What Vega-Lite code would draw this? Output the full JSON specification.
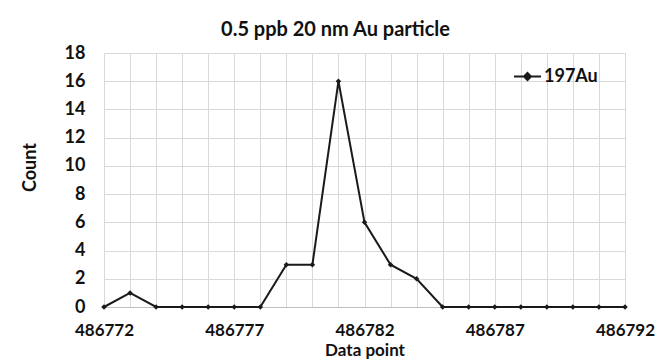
{
  "$schema": "https://vega.github.io/schema/vega-lite/v6.json",
  "autosize": {"type": "none"},
  "width": 521,
  "height": 254,
  "padding": {"left": 104, "top": 53, "right": 47, "bottom": 54},
  "background": "white",
  "config": {
    "font": "Lato",
    "view": {"stroke": null},
    "axis": {"labelFont": "Lato", "titleFont": "Lato", "labelFontWeight": "bold", "titleFontWeight": "bold", "labelColor": "#111", "titleColor": "#111", "gridColor": "#d9d9d9", "gridWidth": 1}
  },
  "title": {
    "text": "0.5 ppb 20 nm Au particle",
    "font": "Lato",
    "fontSize": 20,
    "fontWeight": "bold",
    "color": "#111",
    "anchor": "middle",
    "frame": "group",
    "baseline": "alphabetic",
    "dx": -29,
    "offset": -12
  },
  "data": {
    "values": [
      {"point": 486772, "count": 0, "series": "197Au"},
      {"point": 486773, "count": 1, "series": "197Au"},
      {"point": 486774, "count": 0, "series": "197Au"},
      {"point": 486775, "count": 0, "series": "197Au"},
      {"point": 486776, "count": 0, "series": "197Au"},
      {"point": 486777, "count": 0, "series": "197Au"},
      {"point": 486778, "count": 0, "series": "197Au"},
      {"point": 486779, "count": 3, "series": "197Au"},
      {"point": 486780, "count": 3, "series": "197Au"},
      {"point": 486781, "count": 16, "series": "197Au"},
      {"point": 486782, "count": 6, "series": "197Au"},
      {"point": 486783, "count": 3, "series": "197Au"},
      {"point": 486784, "count": 2, "series": "197Au"},
      {"point": 486785, "count": 0, "series": "197Au"},
      {"point": 486786, "count": 0, "series": "197Au"},
      {"point": 486787, "count": 0, "series": "197Au"},
      {"point": 486788, "count": 0, "series": "197Au"},
      {"point": 486789, "count": 0, "series": "197Au"},
      {"point": 486790, "count": 0, "series": "197Au"},
      {"point": 486791, "count": 0, "series": "197Au"},
      {"point": 486792, "count": 0, "series": "197Au"}
    ]
  },
  "encoding": {
    "x": {
      "field": "point",
      "type": "quantitative",
      "scale": {"domain": [486772, 486792], "nice": false, "zero": false},
      "axis": {
        "title": "Data point",
        "titleFontSize": 17,
        "titleY": 48,
        "titleBaseline": "alphabetic",
        "values": [486772,486773,486774,486775,486776,486777,486778,486779,486780,486781,486782,486783,486784,486785,486786,486787,486788,486789,486790,486791,486792],
        "labelExpr": "(datum.value - 486772) % 5 == 0 ? format(datum.value, 'd') : ''",
        "labelFontSize": 17,
        "labelBaseline": "alphabetic",
        "labelPadding": 28,
        "labelFlush": false,
        "labelOverlap": false,
        "labelBound": false,
        "ticks": false,
        "tickSize": 0,
        "domain": true,
        "domainColor": "#bfbfbf",
        "grid": true
      }
    },
    "y": {
      "field": "count",
      "type": "quantitative",
      "scale": {"domain": [0, 18], "nice": false},
      "axis": {
        "title": "Count",
        "titleFontSize": 18,
        "titleAngle": -90,
        "titleX": -69,
        "titleY": 114,
        "titleAlign": "center",
        "titleBaseline": "alphabetic",
        "values": [0,2,4,6,8,10,12,14,16,18],
        "labelFontSize": 18,
        "labelPadding": 19,
        "ticks": false,
        "tickSize": 0,
        "domain": false,
        "grid": true
      }
    }
  },
  "layer": [
    {
      "mark": {"type": "line", "strokeWidth": 2, "color": "#1a1a1a"},
      "encoding": {
        "color": {
          "field": "series",
          "type": "nominal",
          "scale": {"range": ["#1a1a1a"]},
          "legend": {
            "title": null,
            "orient": "none",
            "legendX": 409,
            "legendY": 9,
            "symbolType": "M-1,0L1,0M0,-0.26L0.26,0L0,0.26L-0.26,0Z",
            "symbolSize": 729,
            "symbolStrokeWidth": 2,
            "symbolStrokeColor": "#1a1a1a",
            "symbolFillColor": "#1a1a1a",
            "labelFont": "Lato",
            "labelFontSize": 18,
            "labelFontWeight": "bold",
            "labelColor": "#111",
            "labelOffset": 2
          }
        }
      }
    },
    {
      "mark": {"type": "point", "shape": "diamond", "filled": true, "size": 30, "color": "#1a1a1a", "opacity": 1}
    }
  ]
}
